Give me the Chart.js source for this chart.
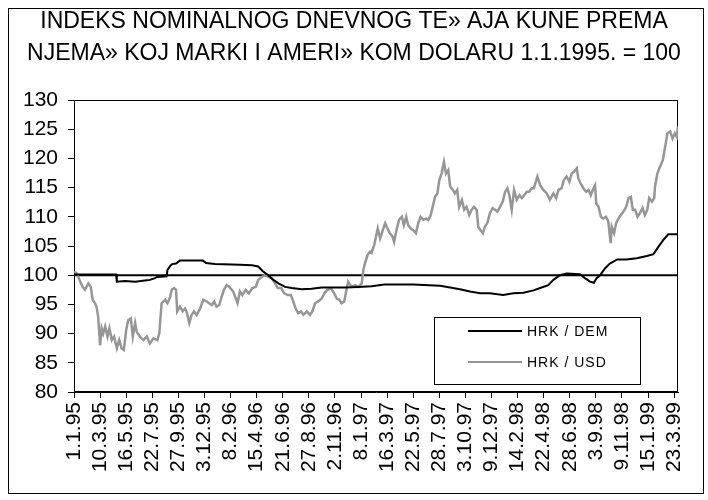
<!DOCTYPE html>
<html>
<head>
<meta charset="utf-8">
<script src="https://cdn.jsdelivr.net/npm/chart.js@4"></script>
<style>
  body { margin: 0; background: #fff; }
  canvas { display: block; }
</style>
</head>
<body>
<canvas id="rateChart" width="708" height="500"></canvas>
<script>
// x = day offset from 1.1.1995 (one tick label every 67 days)
const titleLines = [
  'INDEKS NOMINALNOG DNEVNOG TE» AJA KUNE PREMA',
  'NJEMA» KOJ MARKI I AMERI» KOM DOLARU 1.1.1995. = 100'
];

const tickLabels = ['1.1.95', '10.3.95', '16.5.95', '22.7.95', '27.9.95', '3.12.95', '8.2.96', '15.4.96',
  '21.6.96', '27.8.96', '2.11.96', '8.1.97', '16.3.97', '22.5.97', '28.7.97', '3.10.97', '9.12.97',
  '14.2.98', '22.4.98', '28.6.98', '3.9.98', '9.11.98', '15.1.99', '23.3.99'];
const tickStep = 67;
const lastDay = 1551;

const seriesNames = ['HRK / DEM', 'HRK / USD'];

const demDays = [0, 108, 110, 131, 157, 182, 195, 208, 213, 238, 240, 247, 252, 262, 272, 331, 339, 362,
  426, 457, 473, 486, 499, 512, 525, 542, 559, 585, 610, 636, 662, 696, 730, 764, 797, 871, 940, 966,
  991, 1017, 1043, 1068, 1102, 1128, 1154, 1180, 1197, 1218, 1231, 1248, 1265, 1299, 1312, 1325, 1335,
  1342, 1351, 1364, 1376, 1395, 1418, 1445, 1471, 1488, 1501, 1513, 1526, 1551];
const demValues = [100.1, 100.1, 98.9, 99.0, 98.9, 99.1, 99.2, 99.5, 99.7, 99.8, 100.9, 101.6, 101.9, 102.0,
  102.5, 102.5, 102.1, 101.9, 101.8, 101.7, 101.5, 100.6, 100.0, 99.2, 98.6, 98.0, 97.8, 97.6, 97.7,
  97.9, 97.9, 97.9, 98.0, 98.1, 98.4, 98.4, 98.2, 97.9, 97.6, 97.2, 96.9, 96.9, 96.6, 96.9, 97.0, 97.4,
  97.8, 98.3, 99.2, 100.0, 100.3, 100.15, 99.5, 98.9, 98.7, 99.5, 100.0, 101.2, 102.0, 102.7, 102.7,
  102.9, 103.3, 103.6, 104.9, 106.0, 107.0, 107.0];

const usdDays = [0, 7, 14, 22, 28, 37, 43, 48, 54, 58, 62, 67, 71, 75, 80, 86, 91, 97, 103, 110, 116, 122,
  128, 134, 139, 146, 151, 157, 161, 169, 178, 187, 195, 204, 214, 219, 225, 234, 240, 247, 251, 257,
  262, 265, 272, 279, 285, 289, 296, 302, 308, 315, 324, 332, 341, 347, 354, 360, 366, 373, 379, 385,
  392, 399, 409, 420, 426, 432, 441, 449, 458, 467, 473, 482, 490, 499, 508, 516, 523, 532, 540, 549,
  557, 563, 569, 576, 583, 589, 598, 606, 612, 619, 627, 636, 643, 651, 660, 668, 675, 681, 687, 694,
  698, 704, 713, 722, 730, 739, 743, 747, 754, 760, 764, 771, 780, 786, 793, 799, 805, 811, 818, 822,
  829, 835, 842, 847, 853, 858, 865, 871, 878, 884, 890, 897, 904, 910, 916, 921, 927, 933, 938, 944,
  950, 955, 961, 966, 973, 978, 984, 989, 996, 1002, 1008, 1015, 1021, 1027, 1034, 1038, 1044, 1050,
  1055, 1061, 1068, 1075, 1081, 1087, 1094, 1101, 1107, 1113, 1118, 1124, 1130, 1137, 1144, 1150,
  1156, 1163, 1169, 1175, 1181, 1190, 1197, 1205, 1214, 1222, 1231, 1238, 1244, 1252, 1258, 1265,
  1272, 1278, 1284, 1291, 1295, 1301, 1308, 1315, 1321, 1327, 1334, 1338, 1341, 1347, 1353, 1359,
  1366, 1372, 1378, 1381, 1387, 1392, 1398, 1404, 1411, 1418, 1424, 1430, 1435, 1441, 1447, 1453,
  1460, 1466, 1472, 1477, 1484, 1490, 1492, 1498, 1505, 1512, 1518, 1524, 1531, 1537, 1543, 1548, 1551];
const usdValues = [100.6, 100.3, 99.2, 98.0, 97.5, 98.6, 98.0, 95.8, 95.2, 94.6, 92.9, 88.0, 90.9, 90.0,
  91.2, 89.5, 90.9, 88.9, 89.5, 87.5, 88.9, 87.5, 87.2, 90.6, 92.3, 92.6, 89.5, 91.8, 90.3, 89.5, 88.9,
  89.5, 88.3, 89.2, 88.9, 90.0, 95.2, 95.8, 95.2, 96.3, 97.5, 97.8, 97.5, 93.8, 94.6, 93.8, 94.3, 93.8,
  91.8, 93.2, 93.8, 93.2, 94.3, 95.8, 95.5, 95.2, 94.9, 95.5, 94.6, 94.9, 96.3, 97.5, 98.3, 98.0, 97.2,
  95.2, 97.2, 96.6, 97.5, 96.9, 97.8, 98.0, 99.2, 99.7, 100.0, 99.7, 99.5, 98.6, 97.8, 97.8, 96.9, 96.6,
  96.6, 95.5, 94.3, 93.5, 93.8, 93.2, 93.8, 93.2, 93.8, 95.2, 95.5, 96.0, 96.9, 97.5, 97.8, 96.9, 96.0,
  95.8, 95.2, 95.5, 96.9, 98.9, 98.0, 98.3, 98.0, 98.6, 100.9, 102.0, 103.5, 104.0, 103.8, 105.2, 108.0,
  106.3, 107.7, 108.9, 108.0, 107.2, 106.6, 105.7, 108.0, 109.5, 110.0, 108.6, 110.0, 108.6, 108.0,
  107.7, 107.2, 108.9, 110.0, 109.5, 109.7, 109.5, 110.3, 111.7, 113.4, 114.0, 116.3, 117.4, 119.4,
  117.4, 118.0, 115.2, 114.6, 114.0, 114.6, 111.7, 112.9, 111.2, 111.7, 110.3, 111.2, 111.7, 111.2,
  108.3, 107.7, 107.2, 108.3, 108.9, 110.6, 111.5, 111.2, 110.9, 111.7, 112.6, 114.3, 114.9, 113.7,
  111.2, 114.6, 112.9, 113.7, 113.2, 113.7, 114.3, 114.3, 114.9, 114.9, 116.9, 115.4, 114.6, 114.0,
  112.9, 114.0, 113.2, 114.6, 114.9, 116.3, 116.9, 116.0, 117.4, 117.7, 118.3, 116.6, 115.7, 114.9,
  114.3, 114.6, 113.7, 114.9, 115.4, 112.3, 111.7, 110.0, 109.7, 110.0, 109.2, 105.5, 108.3, 107.2,
  108.9, 109.7, 110.3, 110.9, 111.7, 113.2, 113.4, 111.2, 111.2, 110.0, 110.6, 111.5, 110.3, 111.2,
  113.2, 112.6, 113.2, 115.2, 117.4, 118.6, 119.7, 122.0, 124.3, 124.6, 123.4, 124.3, 123.7, 125.5];

// base line at index 100
const baseDays = [0, lastDay];
const baseValues = [100, 100];

const toPoints = (xs, ys) => xs.map((x, i) => ({ x: x, y: ys[i] }));

const FONT = "'Liberation Sans', Arial, sans-serif";

// frame, plot box and legend like the Excel original
const decorations = {
  id: 'decorations',
  beforeDatasetsDraw(chart) {
    const { ctx, chartArea: a } = chart;
    ctx.save();
    ctx.strokeStyle = '#000';
    ctx.lineWidth = 1;
    ctx.strokeRect(Math.round(a.left) + 0.5, Math.round(a.top) + 0.5,
      Math.round(a.right - a.left) - 1, Math.round(a.bottom - a.top) - 1);
    ctx.restore();
  },
  afterDraw(chart) {
    const { ctx } = chart;
    ctx.save();
    ctx.strokeStyle = '#000';
    ctx.lineWidth = 1;
    ctx.strokeRect(8.5, 8.5, 695, 485);

    // legend
    ctx.fillStyle = '#fff';
    ctx.fillRect(434, 317, 207, 68);
    ctx.strokeRect(434.5, 317.5, 206, 67);
    ctx.font = '14px ' + FONT;
    ctx.letterSpacing = '1px';
    ctx.textBaseline = 'middle';
    ctx.textAlign = 'left';
    const rows = [331, 362];
    chart.data.datasets.slice(0, 2).forEach((ds, i) => {
      ctx.strokeStyle = ds.borderColor;
      ctx.lineWidth = 2;
      ctx.beginPath();
      ctx.moveTo(468, rows[i]);
      ctx.lineTo(522, rows[i]);
      ctx.stroke();
      ctx.fillStyle = '#000';
      ctx.fillText(ds.label, 527, rows[i] + 1);
    });
    ctx.restore();
  }
};

new Chart(document.getElementById('rateChart'), {
  type: 'line',
  data: {
    datasets: [
      {
        label: seriesNames[0],
        data: toPoints(demDays, demValues),
        borderColor: '#000000',
        borderWidth: 2,
        pointRadius: 0,
        tension: 0
      },
      {
        label: seriesNames[1],
        data: toPoints(usdDays, usdValues),
        borderColor: '#969696',
        borderWidth: 2.5,
        pointRadius: 0,
        tension: 0
      },
      {
        label: 'base',
        data: toPoints(baseDays, baseValues),
        borderColor: '#000000',
        borderWidth: 2,
        pointRadius: 0
      }
    ]
  },
  options: {
    responsive: false,
    animation: false,
    layout: { padding: 0 },
    scales: {
      x: {
        type: 'linear',
        min: 0,
        max: lastDay,
        afterBuildTicks: scale => {
          scale.ticks = tickLabels.map((_, i) => ({ value: i * tickStep }));
        },
        afterFit: scale => {
          scale.height = 108;
          scale.paddingRight = 30;
        },
        ticks: {
          autoSkip: false,
          minRotation: 90,
          maxRotation: 90,
          padding: 4,
          color: '#000',
          font: { family: FONT, size: 21 },
          callback: (value, index) => tickLabels[index]
        },
        grid: { drawOnChartArea: false, drawTicks: true, tickLength: 6, color: '#000' },
        border: { display: true, color: '#000', width: 1 }
      },
      y: {
        min: 80,
        max: 130,
        afterFit: scale => { scale.width = 74; },
        ticks: {
          stepSize: 5,
          padding: 10,
          color: '#000',
          font: { family: FONT, size: 21 }
        },
        grid: { drawOnChartArea: false, drawTicks: true, tickLength: 6, color: '#000' },
        border: { display: true, color: '#000', width: 1 }
      }
    },
    plugins: {
      legend: { display: false },
      tooltip: { enabled: false },
      title: {
        display: true,
        text: titleLines,
        color: '#000',
        font: { family: FONT, size: 23, weight: 'normal', lineHeight: '32px' },
        padding: { top: 6, bottom: 30 }
      }
    }
  },
  plugins: [decorations]
});
</script>
</body>
</html>
